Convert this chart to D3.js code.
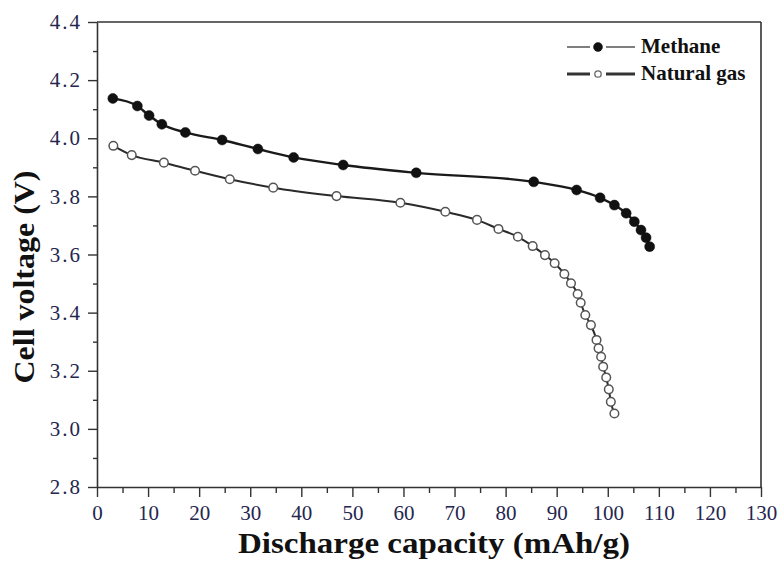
<!DOCTYPE html>
<html>
<head>
<meta charset="utf-8">
<script src="https://cdn.jsdelivr.net/npm/d3@7"></script>
<style>
  html, body { margin: 0; padding: 0; background: #fff; }
  svg { display: block; }
  svg text { font-family: "Liberation Serif", Tinos, "Times New Roman", Times, "Nimbus Roman", "DejaVu Serif", serif !important; }
</style>
</head>
<body>
<svg id="chart" width="783" height="566"></svg>
<script>
// Discharge curves: capacity (mAh/g) vs cell voltage (V)
const methaneCapacity = [3.1, 7.9, 10.2, 12.7, 17.3, 24.5, 31.5, 38.5, 48.2, 62.5, 85.5, 93.9, 98.5, 101.3, 103.6, 105.2, 106.5, 107.5, 108.2];
const methaneVoltage  = [4.137, 4.111, 4.078, 4.048, 4.020, 3.994, 3.963, 3.934, 3.908, 3.881, 3.850, 3.822, 3.795, 3.770, 3.742, 3.713, 3.684, 3.658, 3.627];

const gasCapacity = [3.2, 6.8, 13.1, 19.2, 26.0, 34.5, 46.9, 59.4, 68.2, 74.4, 78.6, 82.4, 85.3, 87.7, 89.6, 91.5, 92.8, 94.1, 94.7, 95.6, 96.7, 97.8, 98.2, 98.7, 99.1, 99.7, 100.2, 100.6, 101.3];
const gasVoltage  = [3.974, 3.942, 3.916, 3.888, 3.859, 3.830, 3.801, 3.778, 3.747, 3.719, 3.688, 3.661, 3.629, 3.598, 3.570, 3.533, 3.501, 3.464, 3.434, 3.392, 3.357, 3.306, 3.277, 3.248, 3.214, 3.177, 3.136, 3.093, 3.053];

const xTicks = [0, 10, 20, 30, 40, 50, 60, 70, 80, 90, 100, 110, 120, 130];
const xMinorTicks = [5, 15, 25, 35, 45, 55, 65, 75, 85, 95, 105, 115, 125];
const yTicks = [2.8, 3.0, 3.2, 3.4, 3.6, 3.8, 4.0, 4.2, 4.4];
const yMinorTicks = [2.9, 3.1, 3.3, 3.5, 3.7, 3.9, 4.1, 4.3];

const seriesNames = ["Methane", "Natural gas"];
const xTitle = "Discharge capacity (mAh/g)";
const yTitle = "Cell voltage (V)";

const svg = d3.select("#chart");
const plot = { left: 97, right: 761, top: 22, bottom: 487 };

const x = d3.scaleLinear().domain([0, 130]).range([plot.left, plot.right]);
const y = d3.scaleLinear().domain([2.8, 4.4]).range([plot.bottom, plot.top]);

const axisColor = "#333";
const labelColor = "#25264e";

// frame: top and right borders
svg.append("line").attr("x1", plot.left).attr("x2", plot.right).attr("y1", plot.top).attr("y2", plot.top)
  .attr("stroke", axisColor).attr("stroke-width", 1.6);
svg.append("line").attr("x1", plot.right).attr("x2", plot.right).attr("y1", plot.top).attr("y2", plot.bottom)
  .attr("stroke", axisColor).attr("stroke-width", 1.6);

// x axis with major and minor ticks
const xAxis = svg.append("g").attr("transform", `translate(0,${plot.bottom})`)
  .call(d3.axisBottom(x).tickValues(xTicks).tickFormat(d3.format("d")).tickSize(10).tickSizeOuter(0).tickPadding(8));
svg.append("g").attr("transform", `translate(0,${plot.bottom})`)
  .call(d3.axisBottom(x).tickValues(xMinorTicks).tickFormat("").tickSize(6).tickSizeOuter(0))
  .call(g => g.select(".domain").remove());

// y axis with major and minor ticks
const yAxis = svg.append("g").attr("transform", `translate(${plot.left},0)`)
  .call(d3.axisLeft(y).tickValues(yTicks).tickFormat(d3.format(".1f")).tickSize(9).tickSizeOuter(0).tickPadding(6));
svg.append("g").attr("transform", `translate(${plot.left},0)`)
  .call(d3.axisLeft(y).tickValues(yMinorTicks).tickFormat("").tickSize(4).tickSizeOuter(0))
  .call(g => g.select(".domain").remove());

svg.selectAll("g").attr("font-family", null);
svg.selectAll(".domain").attr("stroke", axisColor).attr("stroke-width", 1.6);
svg.selectAll(".tick line").attr("stroke", axisColor).attr("stroke-width", 1.4);
xAxis.selectAll(".tick text")
  .attr("font-size", 21).attr("fill", labelColor);
yAxis.selectAll(".tick text")
  .attr("font-size", 21).attr("fill", labelColor)
  .attr("letter-spacing", 2);

// axis titles
svg.append("text")
  .attr("x", (plot.left + plot.right) / 2 + 5).attr("y", 553)
  .attr("text-anchor", "middle")
  .attr("font-size", 30).attr("font-weight", "bold").attr("fill", "#111")
  .attr("textLength", 392).attr("lengthAdjust", "spacingAndGlyphs")
  .text(xTitle);
svg.append("text")
  .attr("transform", `translate(34,277) rotate(-90)`)
  .attr("text-anchor", "middle")
  .attr("font-size", 30).attr("font-weight", "bold").attr("fill", "#111")
  .attr("textLength", 213).attr("lengthAdjust", "spacingAndGlyphs")
  .text(yTitle);

// curves
const line = d3.line().x(d => x(d[0])).y(d => y(d[1])).curve(d3.curveMonotoneX);
const methane = methaneCapacity.map((c, i) => [c, methaneVoltage[i]]);
const gas = gasCapacity.map((c, i) => [c, gasVoltage[i]]);

svg.append("path").datum(methane).attr("d", line)
  .attr("fill", "none").attr("stroke", "#1a1a1a").attr("stroke-width", 2.4);
svg.append("path").datum(gas).attr("d", line)
  .attr("fill", "none").attr("stroke", "#2a2a2a").attr("stroke-width", 2);

svg.append("g").selectAll("circle").data(methane).join("circle")
  .attr("cx", d => x(d[0])).attr("cy", d => y(d[1])).attr("r", 5)
  .attr("fill", "#111").attr("stroke", "#111").attr("stroke-width", 0.5);
svg.append("g").selectAll("circle").data(gas).join("circle")
  .attr("cx", d => x(d[0])).attr("cy", d => y(d[1])).attr("r", 4.3)
  .attr("fill", "#fff").attr("stroke", "#555").attr("stroke-width", 1.5);

// legend
const legend = svg.append("g");
const legendRows = [
  { name: seriesNames[0], y: 47, lineColor: "#555", lineWidth: 1.5, filled: true },
  { name: seriesNames[1], y: 74, lineColor: "#333", lineWidth: 3, filled: false }
];
legendRows.forEach(r => {
  legend.append("line").attr("x1", 567).attr("x2", 590).attr("y1", r.y).attr("y2", r.y)
    .attr("stroke", r.lineColor).attr("stroke-width", r.lineWidth);
  legend.append("line").attr("x1", 606).attr("x2", 635).attr("y1", r.y).attr("y2", r.y)
    .attr("stroke", r.lineColor).attr("stroke-width", r.lineWidth);
  legend.append("circle").attr("cx", 598).attr("cy", r.y).attr("r", r.filled ? 4.5 : 3.2)
    .attr("fill", r.filled ? "#111" : "#fff").attr("stroke", r.filled ? "#111" : "#666")
    .attr("stroke-width", r.filled ? 0.5 : 1.3);
  legend.append("text").attr("x", 641).attr("y", r.y + 6)
    .attr("font-size", 21).attr("font-weight", "bold").attr("fill", "#111")
    .text(r.name);
});
</script>
</body>
</html>
